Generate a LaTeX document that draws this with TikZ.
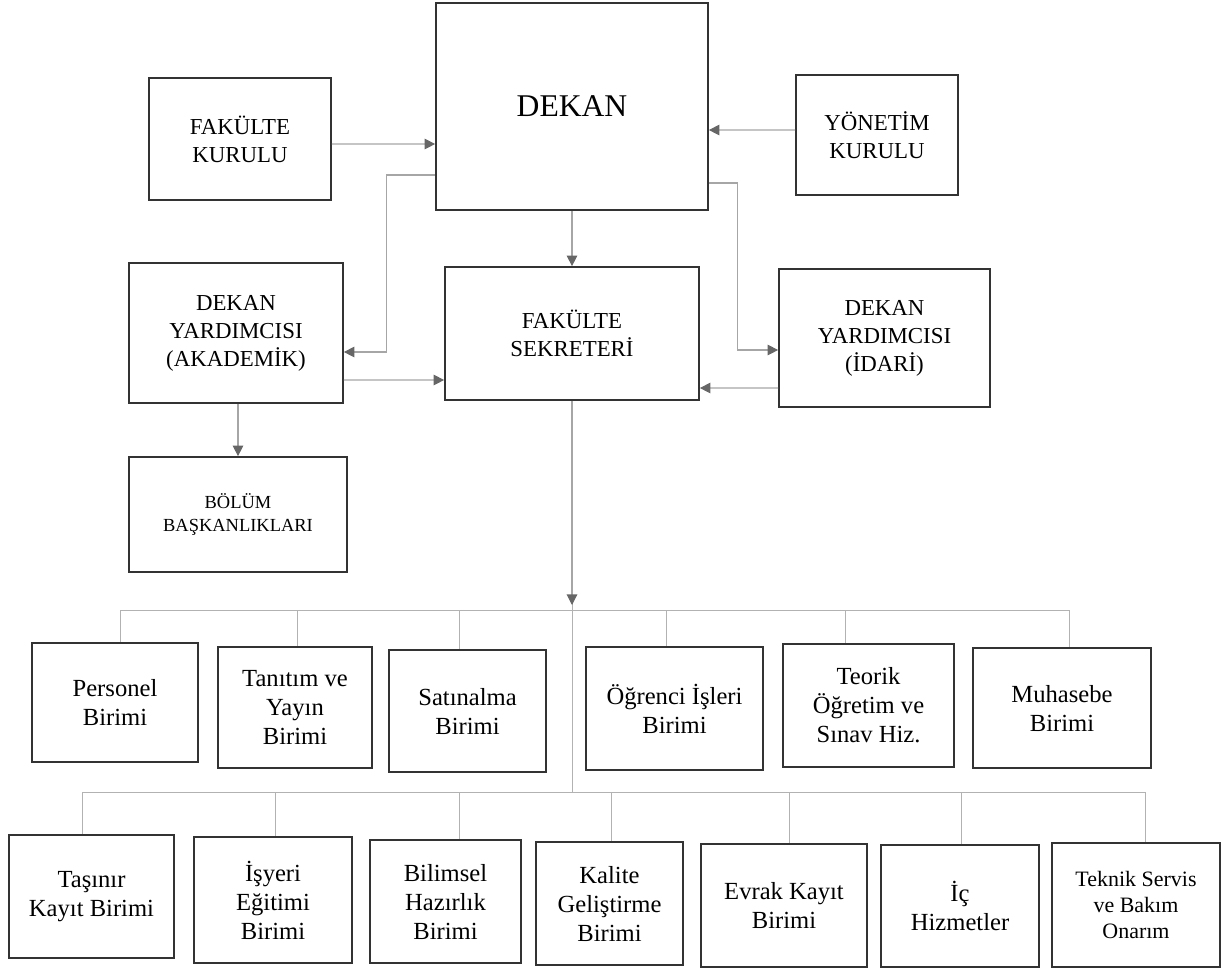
\documentclass[tikz,border=0pt]{standalone}
\usepackage{fontspec}
\setmainfont{Liberation Serif}
\usepackage{tikz}
\usetikzlibrary{arrows.meta,calc}

\begin{document}
\begin{tikzpicture}[x=0.02cm, y=-0.02cm,
	box/.style={shape=rectangle, draw=black!80, line width=1pt, align=center, inner sep=2pt, font=\fontsize{13}{16}\selectfont},
	unit/.style={box, font=\fontsize{14}{16.5}\selectfont},
	arr/.style={draw=black!35, line width=0.6pt, -{Triangle[length=6pt, width=6pt, color=black!60]}},
	link/.style={draw=black!30, line width=0.5pt}]
	
	\useasboundingbox (0,0) rectangle (1226,971);
	
	\node[box, minimum width=5.44cm, minimum height=4.14cm, font=\fontsize{18}{22}\selectfont] (dekan) at (572, 106.5) {DEKAN};
	\node[box, minimum width=3.64cm, minimum height=2.44cm] (fkurul) at (240, 139) {FAKÜLTE\\KURULU};
	\node[box, minimum width=3.24cm, minimum height=2.40cm] (ykurul) at (877, 135) {YÖNETİM\\KURULU};
	\node[box, minimum width=4.28cm, minimum height=2.80cm] (dya) at (236, 333) {DEKAN\\YARDIMCISI\\(AKADEMİK)};
	\node[box, minimum width=5.08cm, minimum height=2.66cm] (fsek) at (572, 333.5) {FAKÜLTE\\SEKRETERİ};
	\node[box, minimum width=4.22cm, minimum height=2.76cm] (dyi) at (884.5, 338) {DEKAN\\YARDIMCISI\\(İDARİ)};
	\node[box, minimum width=4.36cm, minimum height=2.30cm, font=\fontsize{10.5}{13}\selectfont] (bolum) at (238, 514.5) {BÖLÜM\\BAŞKANLIKLARI};
	
	\node[unit, minimum width=3.32cm, minimum height=2.38cm] (pers) at (115, 702.5) {Personel\\Birimi};
	\node[unit, minimum width=3.08cm, minimum height=2.42cm] (tanit) at (295, 707.5) {Tanıtım ve\\Yayın\\Birimi};
	\node[unit, minimum width=3.14cm, minimum height=2.44cm] (satin) at (467.5, 711) {Satınalma\\Birimi};
	\node[unit, minimum width=3.54cm, minimum height=2.46cm] (ogr) at (674.5, 708.5) {Öğrenci İşleri\\Birimi};
	\node[unit, minimum width=3.42cm, minimum height=2.46cm] (teorik) at (868.5, 705.5) {Teorik\\Öğretim ve\\Sınav Hiz.};
	\node[unit, minimum width=3.56cm, minimum height=2.40cm] (muhas) at (1062, 708) {Muhasebe\\Birimi};
	
	\node[unit, minimum width=3.30cm, minimum height=2.46cm] (tasinir) at (91.5, 896.5) {Taşınır\\Kayıt Birimi};
	\node[unit, minimum width=3.16cm, minimum height=2.52cm] (isyeri) at (273, 900) {İşyeri\\Eğitimi\\Birimi};
	\node[unit, minimum width=3.02cm, minimum height=2.46cm] (bilimsel) at (445.5, 901.5) {Bilimsel\\Hazırlık\\Birimi};
	\node[unit, minimum width=2.94cm, minimum height=2.46cm] (kalite) at (609.5, 903.5) {Kalite\\Geliştirme\\Birimi};
	\node[unit, minimum width=3.32cm, minimum height=2.46cm] (evrak) at (784, 905.5) {Evrak Kayıt\\Birimi};
	\node[unit, minimum width=3.16cm, minimum height=2.44cm] (ic) at (960, 906) {İç\\Hizmetler};
	\node[unit, minimum width=3.36cm, minimum height=2.48cm, font=\fontsize{12.5}{15}\selectfont] (teknik) at (1136, 905) {Teknik Servis\\ve Bakım\\Onarım};
	
	\coordinate (bus1) at (572, 610);
	\coordinate (bus2) at (572, 792);
	
	\draw[arr] ($(fkurul.east)+(0,5)$) -- ($(dekan.west)+(0,37.5)$);
	\draw[arr] ($(ykurul.west)+(0,-5)$) -- ($(dekan.east)+(0,23.5)$);
	\draw[arr] (dekan.south) -- (fsek.north);
	\draw[arr] ($(dekan.west)+(0,68.5)$) -| ($(dya.east)+(43,19)$) -- ($(dya.east)+(0,19)$);
	\draw[arr] ($(dekan.east)+(0,76.5)$) -| ($(dyi.west)+(-41,12)$) -- ($(dyi.west)+(0,12)$);
	\draw[arr] ($(dya.east)+(0,47)$) -- ($(fsek.west)+(0,46.5)$);
	\draw[arr] ($(dyi.west)+(0,50)$) -- ($(fsek.east)+(0,54.5)$);
	\draw[arr] (dya.south -| bolum.north) -- (bolum.north);
	
	\draw[link] (fsek.south) -- (bus2);
	\draw[arr] (fsek.south) -- ($(bus1)+(0,-5)$);
	\draw[link] (bus1 -| 120,0) -- (bus1 -| 1069,0);
	\draw[link] (bus2 -| 82,0) -- (bus2 -| 1145,0);
	\foreach \n/\x in {pers/120, tanit/297, satin/459, ogr/666, teorik/845, muhas/1069}
		\draw[link] (bus1 -| \x,0) -- (\n.north -| \x,0);
	\foreach \n/\x in {tasinir/82, isyeri/275, bilimsel/459, kalite/611, evrak/789, ic/961, teknik/1145}
		\draw[link] (bus2 -| \x,0) -- (\n.north -| \x,0);
	
\end{tikzpicture}
\end{document}
